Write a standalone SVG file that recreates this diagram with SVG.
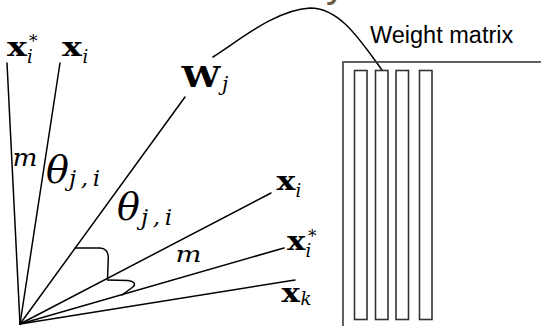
<svg xmlns="http://www.w3.org/2000/svg" width="541" height="326" viewBox="0 0 541 326">
<style>
.ln{stroke:#000;stroke-width:1.5;fill:none;stroke-linecap:round}
.bx{font-family:"DejaVu Serif","Liberation Serif",serif;font-weight:bold;fill:#000}
.it{font-family:"DejaVu Serif","Liberation Serif",serif;font-style:italic;fill:#000}
.rm{font-family:"DejaVu Serif","Liberation Serif",serif;fill:#000}
.mat{fill:none;stroke:#3a3a3a;stroke-width:1.6}
.col{fill:#fff;stroke:#333;stroke-width:1.6}
.sans{font-family:"Liberation Sans",Arial,sans-serif;fill:#000}
</style>
<rect width="541" height="326" fill="#fff"/>
<text x="326" y="-3" font-family="Liberation Sans,Arial,sans-serif" font-size="40" fill="#6b5b3e">y</text>
<g id="connectors">
<line class="ln" x1="20" y1="324" x2="7" y2="63"/>
<line class="ln" x1="20" y1="324" x2="60" y2="63"/>
<line class="ln" x1="20" y1="324" x2="185" y2="97"/>
<line class="ln" x1="20" y1="324" x2="271" y2="193"/>
<line class="ln" x1="20" y1="324" x2="284" y2="248"/>
<line class="ln" x1="20" y1="324" x2="295" y2="280"/>
<path class="ln" d="M75,248 L100,248 Q108.5,248.5 108.3,258 L107.5,279"/>
<path class="ln" d="M107.5,280 L128,280.5 Q137,282 133.5,286.5 L122,295"/>
<path class="ln" d="M213,57 C240,40 275,10 310,8 C340,8 360,40 382,70"/>
</g>
<g id="xistar-left">
<text class="bx" x="7" y="56" font-size="26" textLength="20" lengthAdjust="spacingAndGlyphs">x</text>
<text class="it" x="27" y="62.5" font-size="18">i</text>
<text class="rm" x="29" y="47" font-size="17">*</text>
</g>
<g id="xi-left">
<text class="bx" x="62" y="56" font-size="26" textLength="20" lengthAdjust="spacingAndGlyphs">x</text>
<text class="it" x="82.5" y="62.5" font-size="18">i</text>
</g>
<g id="Wj">
<text class="bx" x="181.5" y="86.7" font-size="28" textLength="39" lengthAdjust="spacingAndGlyphs">W</text>
<text class="it" x="222" y="91" font-size="20">j</text>
</g>
<g id="m-left">
<text class="it" x="12.5" y="166" font-size="25" textLength="25" lengthAdjust="spacingAndGlyphs">m</text>
</g>
<g id="theta-left">
<text class="it" x="46" y="183" font-size="38">θ</text>
<text class="it" x="69" y="186" font-size="23" textLength="31" lengthAdjust="spacing">j,i</text>
</g>
<g id="theta-right">
<text class="it" x="117" y="220" font-size="38">θ</text>
<text class="it" x="141" y="225" font-size="23" textLength="31" lengthAdjust="spacing">j,i</text>
</g>
<g id="xi-right">
<text class="bx" x="276.5" y="190" font-size="26" textLength="19" lengthAdjust="spacingAndGlyphs">x</text>
<text class="it" x="295.5" y="196.5" font-size="18">i</text>
</g>
<g id="m-right">
<text class="it" x="175.5" y="261.7" font-size="23" textLength="26" lengthAdjust="spacingAndGlyphs">m</text>
</g>
<g id="xistar-right">
<text class="bx" x="287" y="250" font-size="26" textLength="18.5" lengthAdjust="spacingAndGlyphs">x</text>
<text class="it" x="305.5" y="257" font-size="18">i</text>
<text class="rm" x="308" y="242" font-size="17">*</text>
</g>
<g id="xk">
<text class="bx" x="281.5" y="301.7" font-size="26" textLength="18.5" lengthAdjust="spacingAndGlyphs">x</text>
<text class="it" x="300.5" y="304.5" font-size="18">k</text>
</g>
<g id="weight-matrix">
<text class="sans" x="370" y="43.3" font-size="23.5">Weight matrix</text>
<rect class="mat" x="343" y="62" width="220" height="280"/>
<rect class="col" x="354.5" y="70.5" width="12.5" height="249"/>
<rect class="col" x="375.5" y="70.5" width="12.5" height="249"/>
<rect class="col" x="396" y="70.5" width="12.5" height="249"/>
<rect class="col" x="419.5" y="70.5" width="12.5" height="249"/>
</g>
</svg>
